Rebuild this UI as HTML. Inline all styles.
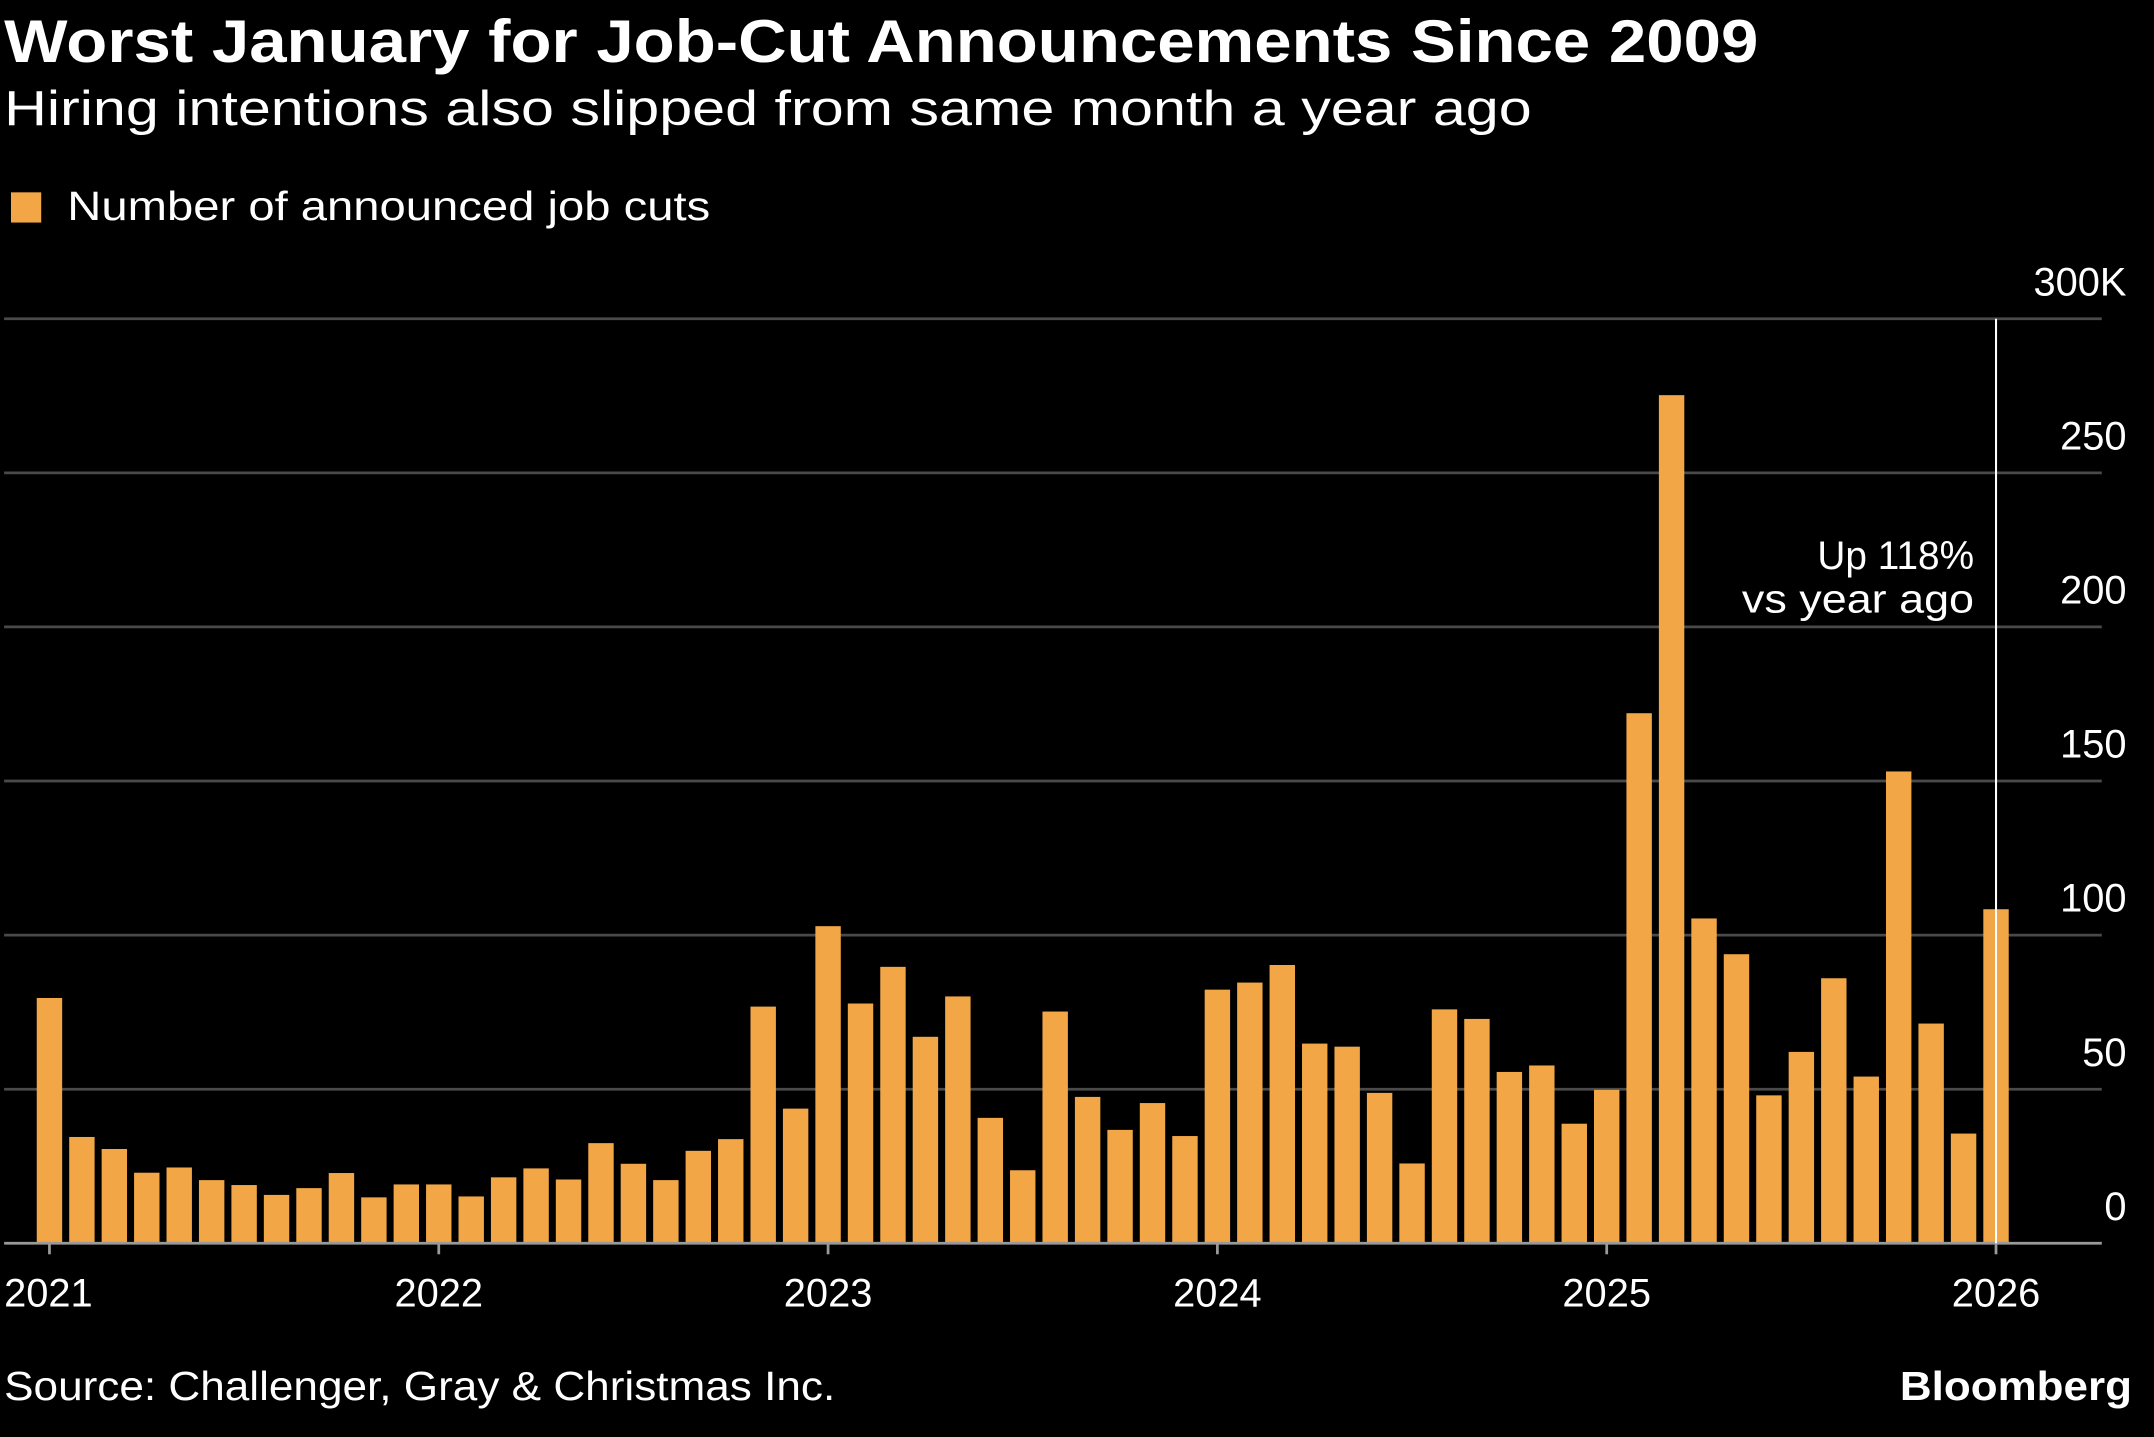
<!DOCTYPE html>
<html><head><meta charset="utf-8">
<style>
html,body{margin:0;padding:0;background:#000;}
svg{display:block;}
text{font-family:"Liberation Sans",sans-serif;fill:#fff;}
</style></head>
<body>
<svg id="chart" width="2154" height="1437" viewBox="0 0 1568 1046" preserveAspectRatio="none" xmlns="http://www.w3.org/2000/svg">
<rect width="1568" height="1046" fill="#000"/>
<text x="3" y="45" font-size="44" font-weight="bold" textLength="1277" lengthAdjust="spacingAndGlyphs">Worst January for Job-Cut Announcements Since 2009</text>
<text x="3" y="91" font-size="36" textLength="1112" lengthAdjust="spacingAndGlyphs" fill="#e8e8e8">Hiring intentions also slipped from same month a year ago</text>
<rect x="8" y="140" width="22" height="22" fill="#f2a646"/>
<text x="49" y="160" font-size="30" textLength="468" lengthAdjust="spacingAndGlyphs">Number of announced job cuts</text>
<g id="grid"></g>
<g id="bars"></g>
<g id="xaxis"></g>
<line x1="1453" y1="232" x2="1453" y2="905" stroke="#fff" stroke-width="1.5"/>
<text x="1323" y="414" font-size="29" textLength="114" lengthAdjust="spacingAndGlyphs">Up 118%</text>
<text x="1268" y="446" font-size="29" textLength="169" lengthAdjust="spacingAndGlyphs">vs year ago</text>
<text x="3" y="1019" font-size="30" textLength="605" lengthAdjust="spacingAndGlyphs">Source: Challenger, Gray &amp; Christmas Inc.</text>
<text x="1383" y="1019" font-size="30" font-weight="bold" textLength="169" lengthAdjust="spacingAndGlyphs">Bloomberg</text>
</svg>
<script>
const values = [79.6,34.5,30.6,22.9,24.6,20.5,18.9,15.7,17.9,22.8,14.9,19.1,
19.1,15.2,21.4,24.3,20.7,32.5,25.8,20.5,30.0,33.8,76.8,43.7,
102.9,77.8,89.7,67.0,80.1,40.7,23.7,75.2,47.5,36.8,45.5,34.8,
82.3,84.6,90.3,64.8,63.8,48.8,25.9,75.9,72.8,55.6,57.7,38.8,
49.8,172.0,275.2,105.4,93.8,48.0,62.1,86.0,54.1,153.1,71.3,35.6,
108.4];
const yTicks = [0,50,100,150,200,250,300];
const yTickLabels = ["0","50","100","150","200","250","300K"];
const xTickLabels = ["2021","2022","2023","2024","2025","2026"];
const NS="http://www.w3.org/2000/svg";
const y = v => 905 - v*(673/300);
const x = i => 36 + i*(1417/60);
function mk(tag,attrs,parent){const e=document.createElementNS(NS,tag);for(const k in attrs)e.setAttribute(k,attrs[k]);parent.appendChild(e);return e;}
const grid=document.getElementById('grid');
yTicks.forEach((t,i)=>{
  if(t>0){const l=mk('line',{x1:3,x2:1530,y1:y(t),y2:y(t),stroke:'#4a4a4a','stroke-width':2},grid);
  
  }
  const tx=mk('text',{x:1548,y:y(t)-17,'font-size':29,'text-anchor':'end',fill:'#e8e8e8'},grid);
  tx.textContent=yTickLabels[i];
  
  
});
const bars=document.getElementById('bars');
const bw=18.5;
values.forEach((v,i)=>{
  const r=mk('rect',{x:x(i)-bw/2,y:y(v),width:bw,height:905-y(v),fill:'#f2a646'},bars);
  
  
});
const xa=document.getElementById('xaxis');
const base=mk('line',{x1:3,x2:1530,y1:905,y2:905,stroke:'#9a9a9a','stroke-width':2},xa);


xTickLabels.forEach((lab,k)=>{
  const xx=x(k*12);
  const tk=mk('line',{x1:xx,x2:xx,y1:905,y2:913,stroke:'#9a9a9a','stroke-width':2},xa);
  
  
  const anchor = k===0?'start':'middle';
  const t=mk('text',{x:k===0?3:xx,y:951,'font-size':29,'text-anchor':anchor,fill:'#e8e8e8'},xa);
  t.textContent=lab;
  
  
});
</script>
</body></html>
